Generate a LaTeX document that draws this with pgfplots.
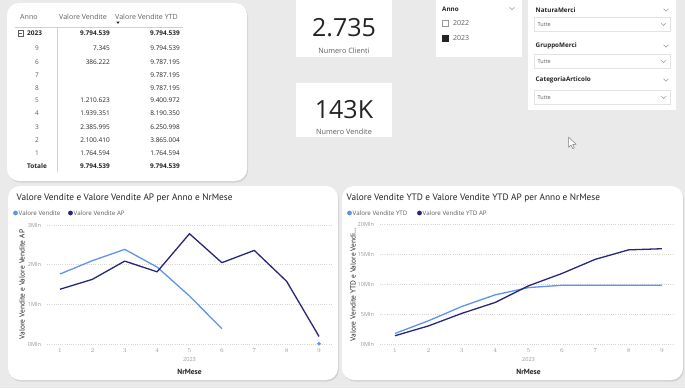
\documentclass[border=0pt]{standalone}
\usepackage{pgfplots}
\pgfplotsset{compat=1.18}
\usepackage{pgfplotstable}
\usepackage{fontspec}
\setmainfont{Open Sans}
\newfontfamily\titlefont{PT Sans}
\usetikzlibrary{shadows}
\definecolor{bg}{HTML}{EAEAEA}
\definecolor{lightblue}{HTML}{6094EC}
\definecolor{navy}{HTML}{26267A}
\definecolor{txt}{HTML}{252423}
\definecolor{tgray}{HTML}{605E5C}
\definecolor{lgray}{HTML}{9A9896}
\definecolor{gridc}{HTML}{D8D6D4}
\definecolor{linec}{HTML}{C9D1EA}
\definecolor{boxc}{HTML}{E3E3E3}

\pgfplotstableread{
m v
1 1.764594
2 2.100410
3 2.385995
4 1.939351
5 1.210623
6 0.386222
}\vvtab
\pgfplotstableread{
m v
9 0.007345
}\vvnine
\pgfplotstableread{
m v
1 1.38
2 1.63
3 2.09
4 1.82
5 2.78
6 2.05
7 2.36
8 1.58
9 0.19
}\aptab
\pgfplotstableread{
m v
1 1.764594
2 3.865004
3 6.250998
4 8.190350
5 9.400972
6 9.787195
7 9.787195
8 9.787195
9 9.794539
}\ytdtab
\pgfplotstableread{
m v
1 1.38
2 3.01
3 5.10
4 6.92
5 9.70
6 11.75
7 14.11
8 15.69
9 15.88
}\ytdaptab

\pgfplotsset{pbi/.style={
  scale only axis, anchor=south west,
  axis line style={draw=none},
  tick style={draw=none},
  ymajorgrids,
  major grid style={gridc, dash pattern=on 1pt off 1.2pt, line width=0.5pt},
  xtick={1,...,9},
  ticklabel style={font=\fontsize{5.6}{6}\selectfont, text=lgray},
  yticklabel style={xshift=-2.5pt},
  xticklabel style={yshift=-1pt},
  clip=false,
}}

\newcommand{\tf}{\fontsize{6.5}{7.5}\selectfont}
\newcommand{\hf}{\fontsize{7.1}{8}\selectfont}
\newcommand{\chev}[2]{\draw[lgray, line width=0.45pt] (#1-2.5,#2-1.2) -- (#1,#2+1.2) -- (#1+2.5,#2-1.2);}

\begin{document}
\begin{tikzpicture}
\begin{scope}[x=1pt,y=-1pt]
\fill[bg] (0,0) rectangle (685,388);
% ---------- table card
\fill[white, rounded corners=12pt, drop shadow={shadow xshift=1pt, shadow yshift=-1.5pt, opacity=0.22}] (7,3) rectangle (247,181);
\begin{scope}[every node/.style={inner sep=0pt, font=\tf}]
\node[anchor=west, text=tgray, font=\hf] at (20,17) {Anno};
\node[anchor=west, text=tgray, font=\hf] at (59,17) {Valore Vendite};
\node[anchor=west, text=tgray, font=\hf] at (115,17) {Valore Vendite YTD};
\fill[txt] (116.3,21.6) -- (119.7,21.6) -- (118,23.9) -- cycle;
\draw[linec, line width=0.6pt] (15,27) -- (183,27);
\draw[linec, line width=0.6pt] (57,27) -- (57,172);
\draw[tgray, line width=0.4pt] (18,30.5) rectangle (23.5,36);
\draw[tgray, line width=0.4pt] (19.3,33.25) -- (22.2,33.25);
\node[anchor=west, text=txt, font=\tf\bfseries] at (27,33) {2023};
\node[anchor=east, text=txt, font=\tf\bfseries] at (110,33) {9.794.539};
\node[anchor=east, text=txt, font=\tf\bfseries] at (180,33) {9.794.539};
\foreach \y/\l/\a/\b in {47.7/9/7.345/9.794.539, 61.7/6/386.222/9.787.195, 75/7//9.787.195, 88.3/8//9.787.195, 100/5/1.210.623/9.400.972, 113.3/4/1.939.351/8.190.350, 126.7/3/2.385.995/6.250.998, 140/2/2.100.410/3.865.004, 153.3/1/1.764.594/1.764.594}{
  \node[text=tgray] at (37,\y) {\l};
  \node[anchor=east, text=txt] at (110,\y) {\a};
  \node[anchor=east, text=txt] at (180,\y) {\b};
}
\node[text=txt, font=\tf\bfseries] at (37,165.7) {Totale};
\node[anchor=east, text=txt, font=\tf\bfseries] at (110,165.7) {9.794.539};
\node[anchor=east, text=txt, font=\tf\bfseries] at (180,165.7) {9.794.539};
\end{scope}
% ---------- KPI cards
\fill[white] (296,0) rectangle (392,57);
\fill[white] (296,83) rectangle (392,137);
\node[inner sep=0pt, text=txt, font=\fontsize{25}{27}\selectfont] at (344,28) {2.735};
\node[inner sep=0pt, text=tgray, font=\fontsize{7.3}{8}\selectfont] at (344,51) {Numero Clienti};
\node[inner sep=0pt, text=txt, font=\fontsize{25}{27}\selectfont] at (344,110) {143K};
\node[inner sep=0pt, text=tgray, font=\fontsize{7.3}{8}\selectfont] at (344,131.5) {Numero Vendite};
% ---------- Anno slicer
\fill[white] (436,0) rectangle (522,57);
\node[anchor=west, inner sep=0pt, text=txt, font=\fontsize{6.3}{7}\selectfont\bfseries] at (442,9.5) {Anno};
\chev{512}{8.5}
\draw[lgray, line width=0.4pt] (442.3,20) rectangle (448.3,26);
\node[anchor=west, inner sep=0pt, text=tgray, font=\fontsize{7}{8}\selectfont] at (453,23) {2022};
\fill[txt] (442,35) rectangle (448.6,41.6);
\node[anchor=west, inner sep=0pt, text=tgray, font=\fontsize{7}{8}\selectfont] at (453,38) {2023};
% ---------- right slicers
\fill[white] (528,0) rectangle (676,110);
\foreach \ly/\by/\name in {10/17/NaturaMerci, 46/54/GruppoMerci, 80/90/CategoriaArticolo}{
  \node[anchor=west, inner sep=0pt, text=txt, font=\fontsize{6.3}{7}\selectfont\bfseries] at (535.5,\ly) {\name};
  \chev{666}{\ly}
  \draw[boxc, line width=0.5pt] (534.5,\by) rectangle (670.5,\by+14.5);
  \node[anchor=west, inner sep=0pt, text=tgray, font=\fontsize{5.5}{6}\selectfont] at (537.5,\by+7.5) {Tutte};
  \chev{663.5}{\by+7.3}
}
% ---------- cursor
\filldraw[fill=white, draw=gray, line width=0.5pt, line join=round] (568.5,137) -- (568.5,147.5) -- (571,145) -- (572.8,148.6) -- (574.4,147.9) -- (572.7,144.4) -- (576.1,144.4) -- cycle;
% ---------- chart cards
\fill[white, rounded corners=12pt, drop shadow={shadow xshift=1pt, shadow yshift=-1.5pt, opacity=0.22}] (8,186) rectangle (338,380);
\fill[white, rounded corners=12pt, drop shadow={shadow xshift=1pt, shadow yshift=-1.5pt, opacity=0.22}] (342,186) rectangle (683,380);
% titles
\node[anchor=west, inner sep=0pt, text=txt, font=\titlefont\fontsize{9.3}{10}\selectfont] at (16.5,198) {Valore Vendite e Valore Vendite AP per Anno e NrMese};
\node[anchor=west, inner sep=0pt, text=txt, font=\titlefont\fontsize{9.3}{10}\selectfont] at (346.5,198) {Valore Vendite YTD e Valore Vendite YTD AP per Anno e NrMese};
% legends
\fill[lightblue] (15.5,213) circle (2.4);
\node[anchor=west, inner sep=0pt, text=tgray, font=\fontsize{6.2}{7}\selectfont] at (18.5,213) {Valore Vendite};
\fill[navy] (70.5,213) circle (2.4);
\node[anchor=west, inner sep=0pt, text=tgray, font=\fontsize{6.2}{7}\selectfont] at (73.5,213) {Valore Vendite AP};
\fill[lightblue] (349.5,213) circle (2.4);
\node[anchor=west, inner sep=0pt, text=tgray, font=\fontsize{6.2}{7}\selectfont] at (352.5,213) {Valore Vendite YTD};
\fill[navy] (419.5,213) circle (2.4);
\node[anchor=west, inner sep=0pt, text=tgray, font=\fontsize{6.2}{7}\selectfont] at (422.5,213) {Valore Vendite YTD AP};
% axis titles
\node[rotate=90, inner sep=0pt, text=txt, font=\titlefont\fontsize{7.4}{8}\selectfont] at (22,284.5) {Valore Vendite e Valore Vendite AP};
\node[rotate=90, inner sep=0pt, text=txt, font=\titlefont\fontsize{7.4}{8}\selectfont] at (353,284.5) {Valore Vendite YTD e Valore Vendi…};
\node[inner sep=0pt, text=lgray, font=\fontsize{5.6}{6}\selectfont] at (189.5,359) {2023};
\node[inner sep=0pt, text=lgray, font=\fontsize{5.6}{6}\selectfont] at (528.5,359) {2023};
\node[inner sep=0pt, text=txt, font=\titlefont\bfseries\fontsize{7.5}{8}\selectfont] at (189.5,371.5) {NrMese};
\node[inner sep=0pt, text=txt, font=\titlefont\bfseries\fontsize{7.5}{8}\selectfont] at (528.5,371.5) {NrMese};
\end{scope}

% ---------- chart 1
\begin{axis}[pbi, at={(47pt,-344pt)}, width=285pt, height=119pt,
  xmin=0.6, xmax=9.4, ymin=0, ymax=3,
  ytick={0,1,2,3}, yticklabels={0Mln,1Mln,2Mln,3Mln}]
\addplot[lightblue, line width=1.3pt, line join=round] table[x=m,y=v] {\vvtab};
\addplot[navy, line width=1.3pt, line join=round] table[x=m,y=v] {\aptab};
\addplot[only marks, mark=*, mark size=1.6pt, lightblue] table[x=m,y=v] {\vvnine};
\end{axis}

% ---------- chart 2
\begin{axis}[pbi, at={(380pt,-344pt)}, width=293pt, height=120pt,
  xmin=0.55, xmax=9.33, ymin=0, ymax=20,
  ytick={0,5,10,15,20}, yticklabels={0Mln,5Mln,10Mln,15Mln,20Mln}]
\addplot[lightblue, line width=1.3pt, line join=round] table[x=m,y=v] {\ytdtab};
\addplot[navy, line width=1.3pt, line join=round] table[x=m,y=v] {\ytdaptab};
\end{axis}
\end{tikzpicture}
\end{document}
